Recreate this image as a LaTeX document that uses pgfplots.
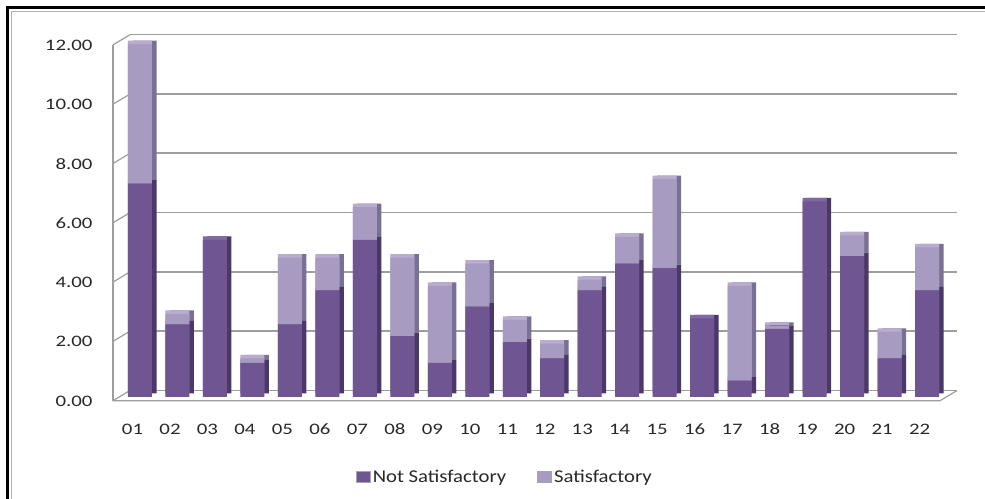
\documentclass[border=0pt]{standalone}
\usepackage{fontspec}
\setmainfont{Carlito}
\newfontfamily\tickfont{Carlito}[FakeStretch=1.3]
\newfontfamily\legfont{Carlito}[FakeStretch=1.15]
\usepackage{pgfplots}
\usepackage{pgfplotstable}
\pgfplotsset{compat=1.18}
\definecolor{nsf}{RGB}{111,86,147}
\definecolor{nss}{RGB}{74,57,102}
\definecolor{nsc}{RGB}{128,104,162}
\definecolor{sf}{RGB}{168,155,194}
\definecolor{sss}{RGB}{122,112,148}
\definecolor{ssc}{RGB}{184,172,207}
\definecolor{gridc}{RGB}{158,158,158}
\definecolor{tickc}{RGB}{40,40,40}

\pgfplotstableread{
cat ns s
1 7.2 4.7
2 2.45 0.35
3 5.3 0
4 1.15 0.15
5 2.45 2.25
6 3.6 1.1
7 5.3 1.1
8 2.05 2.65
9 1.15 2.6
10 3.05 1.45
11 1.85 0.75
12 1.3 0.5
13 3.6 0.35
14 4.5 0.9
15 4.35 3.0
16 2.65 0
17 0.55 3.2
18 2.3 0.1
19 6.6 0
20 4.75 0.7
21 1.3 0.9
22 3.6 1.45
}\datatable

\pgfplotsset{barbase/.style={
  anchor=south west, scale only axis,
  width=618.36pt, height=266.85pt,
  xmin=0.5, xmax=22.5, ymin=0, ymax=12,
  ybar stacked, bar width=18pt, clip=false,
}}

\begin{document}
\begin{tikzpicture}
\path[use as bounding box] (0,0) rectangle (738.75pt,374.25pt);
\begin{scope}[x=0.75pt,y=-0.75pt,yshift=374.25pt]
  \fill[white] (0,0) rectangle (985,499);
  \draw[black, line width=2.8pt] (7.5,499) -- (7.5,7.5) -- (985,7.5);
  \draw[gray!60, line width=0.6pt] (11,499) -- (11,11) -- (985,11);
\end{scope}

% back wall with grid lines
\begin{axis}[
  at={(97.5pt,81.375pt)}, anchor=south west, scale only axis,
  width=620.25pt, height=266.85pt,
  xmin=0, xmax=1, ymin=0, ymax=12,
  xtick=\empty, ytick={0,2,...,12},
  yticklabels={0.00,2.00,4.00,6.00,8.00,10.00,12.00},
  ymajorgrids, grid style={gridc, line width=1.2pt},
  axis line style={draw=none}, major tick length=0pt,
  yticklabel style={font=\tickfont\fontsize{12}{14}\selectfont, text=tickc,
    anchor=east, inner sep=0pt, xshift=-28pt, yshift=-8pt},
]
\end{axis}

% floor and left wall edges
\begin{scope}[x=0.75pt,y=-0.75pt,yshift=374.25pt]
  \draw[gridc, line width=0.9pt] (113,400.7) -- (940,400.7) -- (957,390.5);
  \draw[gridc, line width=0.9pt] (113,400.7) -- (113,44.9);
  \foreach \v in {0,2,...,12} {
    \draw[gridc, line width=0.9pt] (113,{400.7-29.65*\v}) -- (130,{390.5-29.65*\v});
  }
\end{scope}

% side faces
\begin{axis}[barbase, at={(94.32pt,79.125pt)}, hide axis]
\addplot[fill=nss, draw=none] table[x=cat,y=ns]{\datatable};
\addplot[fill=sss, draw=none] table[x=cat,y=s]{\datatable};
\end{axis}

% top caps
\begin{axis}[barbase, at={(90.945pt,79.125pt)}, hide axis]
\addplot[fill=nsc, draw=none] table[x=cat,y=ns]{\datatable};
\addplot[fill=ssc, draw=none] table[x=cat,y=s]{\datatable};
\end{axis}

% front faces
\begin{axis}[barbase, at={(90.945pt,76.5pt)},
  axis line style={draw=none}, major tick length=0pt,
  ytick=\empty, xtick={1,...,22},
  xticklabels={01,02,03,04,05,06,07,08,09,10,11,12,13,14,15,16,17,18,19,20,21,22},
  xticklabel style={font=\tickfont\fontsize{12}{14}\selectfont, text=tickc,
    anchor=center, inner sep=0pt, xshift=-5.6pt, yshift=-24pt},
  legend style={at={(0.4654,-0.2248)}, anchor=center, legend columns=2,
    draw=none, fill=none, inner sep=0pt,
    font=\legfont\fontsize{13.5}{15}\selectfont, text=tickc,
    /tikz/every even column/.append style={column sep=21pt}},
  legend image code/.code={\path[#1, draw=black!35, line width=0.4pt] (0pt,-4.2pt) rectangle (10.5pt,4.2pt);},
]
\addplot[fill=nsf, draw=none] table[x=cat,y=ns]{\datatable};
\addplot[fill=sf, draw=none] table[x=cat,y=s]{\datatable};
\legend{Not Satisfactory, Satisfactory}
\end{axis}
\end{tikzpicture}
\end{document}
